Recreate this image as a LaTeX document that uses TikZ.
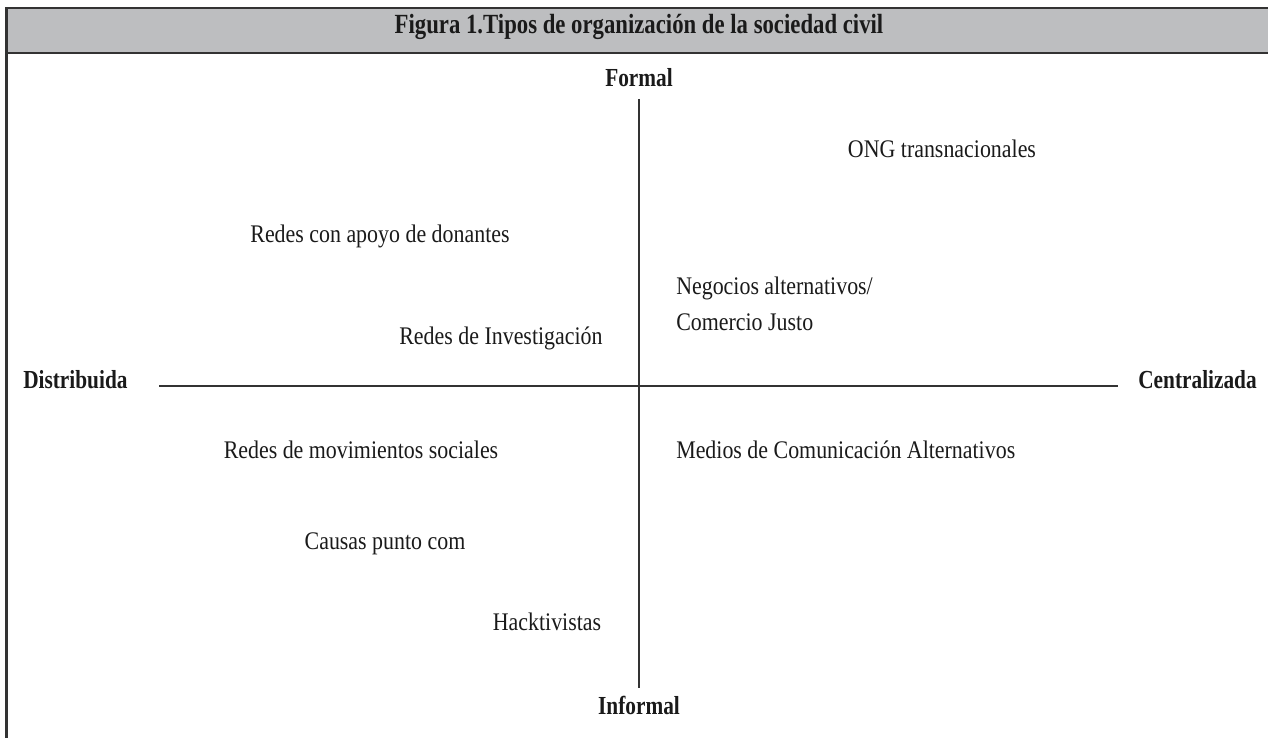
\documentclass[tikz,border=0pt]{standalone}
\usepackage{fontspec}
\setmainfont{Liberation Serif}[FakeStretch=0.82]
\newfontfamily\itemfont{Liberation Serif}[FakeStretch=0.865]
\definecolor{hdrgray}{HTML}{BDBEC0}
\definecolor{linegray}{HTML}{333333}
\definecolor{txt}{HTML}{1A1A1A}
\begin{document}
\begin{tikzpicture}[x=0.75pt,y=-0.75pt,
  lbl/.style={font=\itemfont\fontsize{19}{22}\selectfont, text=txt, inner sep=0pt},
  axlbl/.style={font=\fontsize{19.5}{22}\selectfont\bfseries, text=txt, inner sep=0pt},
  ttl/.style={font=\fontsize{20.8}{24}\selectfont\bfseries, text=txt, inner sep=0pt},
  axis/.style={draw=linegray, line width=1.1pt},
  frame/.style={draw=linegray, line width=1.6pt}]
\useasboundingbox (0,0) rectangle (1268,738);
% header
\fill[hdrgray] (6.5,8) rectangle (1268,53);
\draw[frame] (1268,8) -- (6.5,8) -- (6.5,738);
\draw[frame] (6.5,53) -- (1268,53);
\node[ttl, anchor=base] (title) at (639,34) {Figura 1.Tipos de organización de la sociedad civil};
% axes labels
\node[axlbl, anchor=base] (formal) at (639,87) {Formal};
\node[axlbl, anchor=base] (informal) at (639,714) {Informal};
\node[axlbl, anchor=base west] (distr) at (23,388) {Distribuida};
\node[axlbl, anchor=base east] (centr) at (1257,388) {Centralizada};
\coordinate (vtop) at (639,99);
\coordinate (vbot) at (639,688);
\coordinate (hl) at (159,386);
\coordinate (hr) at (1118,386);
\draw[axis] (vtop) -- (vbot);
\draw[axis] (hl) -- (hr);
% items
\node[lbl, anchor=base] (ong) at (942,158) {ONG transnacionales};
\node[lbl, anchor=base] (donantes) at (380,243) {Redes con apoyo de donantes};
\node[lbl, anchor=base west] (negocios) at (676,295) {Negocios alternativos/};
\node[lbl, anchor=base west] (comercio) at (676,330) {Comercio Justo};
\node[lbl, anchor=base] (invest) at (501,344) {Redes de Investigación};
\node[lbl, anchor=base] (movs) at (361,458) {Redes de movimientos sociales};
\node[lbl, anchor=base west] (medios) at (676,458) {Medios de Comunicación Alternativos};
\node[lbl, anchor=base] (causas) at (385,549) {Causas punto com};
\node[lbl, anchor=base] (hack) at (547,630) {Hacktivistas};
\end{tikzpicture}
\end{document}
